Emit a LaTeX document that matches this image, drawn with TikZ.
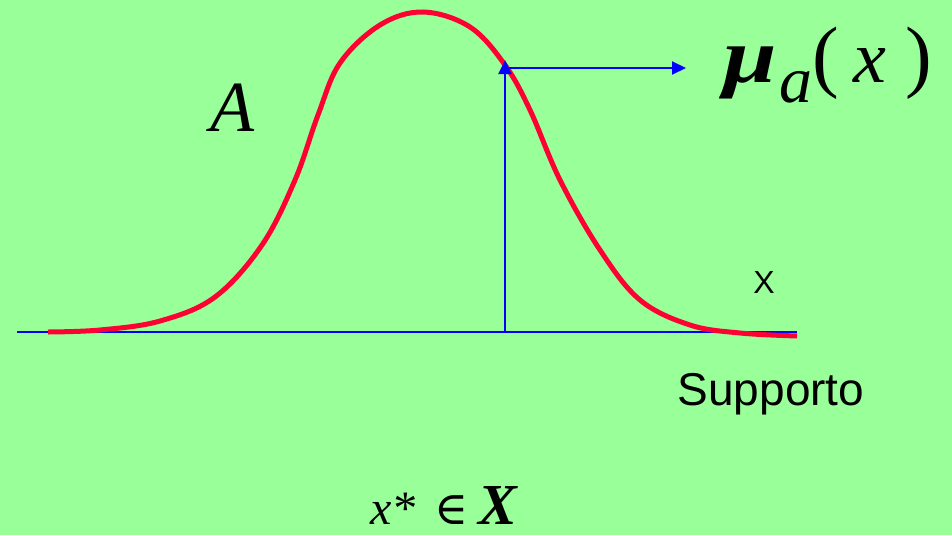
\documentclass[tikz,border=0pt]{standalone}
\usepackage{fontspec}
\setmainfont{Liberation Serif}
\setsansfont{Liberation Sans}
\newfontfamily\symfont{DejaVu Serif}
\usetikzlibrary{arrows.meta}
\definecolor{bg}{HTML}{99FF99}
\definecolor{curvered}{HTML}{FF0033}
\tikzset{
  axisline/.style={draw=blue, line width=2pt},
  arrowline/.style={draw=blue, line width=2pt, -{Triangle[length=14pt,width=13pt]}},
  redcurve/.style={draw=curvered, line width=5pt},
  lbl/.style={inner sep=0pt, anchor=center},
  piece/.style={inner sep=0pt, anchor=base west}
}
\begin{document}
\begin{tikzpicture}[x=1pt,y=-1pt]
\fill[bg] (0,0) rectangle (952,535);
\useasboundingbox (0,0) rectangle (952,535);
\coordinate (axl) at (17,332);
\coordinate (axr) at (797,332);
\draw[axisline] (axl) -- (axr);
\draw[redcurve] plot[smooth, tension=0.6] coordinates {
 (48,332) (100,330) (160,321) (215,297) (262,245) (295,180) (318,115) (340,63) (380,25) (423,12) (470,27) (505,65) (530,110) (560,180) (600,250) (640,300) (690,325) (740,333) (797,336)};
\coordinate (foot) at (505,332);
\coordinate (top) at (505,60);
\coordinate (hstart) at (505,68);
\coordinate (tip) at (686,68);
\draw[arrowline] (foot) -- (top);
\draw[arrowline] (hstart) -- (tip);
\node[lbl] (A) at (232,108) {\fontsize{72}{72}\selectfont\itshape A};
% mu_a( x )
\node[piece] (mu) at (723,82) {\fontsize{74}{74}\selectfont\scalebox{1.3}[1.05]{\textbf{\textit{μ}}}};
\node[piece] (musub) at (779,102) {\fontsize{66}{66}\selectfont\itshape a};
\node[piece] (lpar) at (812,82) {\fontsize{80}{80}\selectfont (};
\node[piece] (xvar) at (853,82) {\fontsize{74}{74}\selectfont\itshape x};
\node[piece] (rpar) at (905,82) {\fontsize{80}{80}\selectfont )};
\node[lbl] (X) at (764,282) {\fontsize{32}{32}\selectfont\sffamily X};
\node[lbl, anchor=base] (sup) at (771,405) {\fontsize{46}{46}\selectfont\sffamily Supporto};
\node[piece] (xs) at (370,524) {\fontsize{48}{48}\selectfont\itshape x*};
\node[piece] (elem) at (434,524) {\fontsize{46}{46}\selectfont\symfont ∈};
\node[piece] (bigX) at (478,524) {\fontsize{58}{58}\selectfont\bfseries\itshape X};
\end{tikzpicture}
\end{document}
